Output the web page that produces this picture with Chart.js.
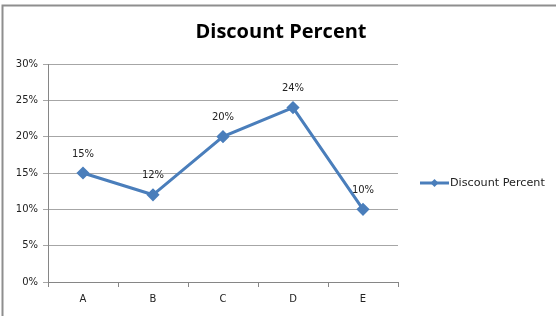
<!DOCTYPE html>
<html>
<head>
<meta charset="utf-8">
<script src="https://cdn.jsdelivr.net/npm/chart.js@4/dist/chart.umd.min.js"></script>
<style>
    html, body { margin: 0; padding: 0; background: #fff; }
    #chart { display: block; }
</style>
</head>
<body>
<canvas id="chart" width="556" height="316"></canvas>
<script>
const categories = ['A', 'B', 'C', 'D', 'E'];
const discountPercent = [0.15, 0.12, 0.20, 0.24, 0.10];
const seriesName = 'Discount Percent';
const chartTitle = 'Discount Percent';

const FONT = "'DejaVu Sans', sans-serif";
const TITLE_FONT = "'Open Sans', 'Noto Sans', sans-serif";
const LINE_COLOR = '#4a7ebb';

const pct = v => Math.round(v * 100) + '%';

// gray frame round the whole chart (top and left show in the picture)
const framePlugin = {
    id: 'frame',
    beforeDraw(chart) {
        const ctx = chart.ctx;
        ctx.save();
        ctx.strokeStyle = '#8e8e8e';
        ctx.lineWidth = 2;
        ctx.beginPath();
        ctx.moveTo(2.5, 316);
        ctx.lineTo(2.5, 5.5);
        ctx.lineTo(556, 5.5);
        ctx.stroke();
        ctx.restore();
    }
};

// title centred on the whole picture, not on the plot
const titlePlugin = {
    id: 'bigTitle',
    afterDraw(chart) {
        const ctx = chart.ctx;
        ctx.save();
        ctx.fillStyle = '#000';
        ctx.font = 'bold 20px ' + TITLE_FONT;
        ctx.textAlign = 'center';
        ctx.textBaseline = 'middle';
        ctx.fillText(chartTitle, 281, 32);
        ctx.restore();
    }
};

// value labels over each point
const pointLabels = {
    id: 'pointLabels',
    afterDatasetsDraw(chart) {
        const ctx = chart.ctx;
        const meta = chart.getDatasetMeta(0);
        ctx.save();
        ctx.font = '10px ' + FONT;
        ctx.fillStyle = '#222';
        ctx.textAlign = 'center';
        ctx.textBaseline = 'middle';
        meta.data.forEach((pt, i) => {
            ctx.fillText(pct(chart.data.datasets[0].data[i]), pt.x, pt.y - 19);
        });
        ctx.restore();
    }
};

// legend on the right, drawn by hand so it sits where the original had it
const sideLegend = {
    id: 'sideLegend',
    afterDraw(chart) {
        const ctx = chart.ctx;
        const ds = chart.data.datasets[0];
        const y = 183;
        ctx.save();
        ctx.strokeStyle = ds.borderColor;
        ctx.lineWidth = 3;
        ctx.beginPath();
        ctx.moveTo(420, y);
        ctx.lineTo(449, y);
        ctx.stroke();
        ctx.fillStyle = ds.borderColor;
        ctx.beginPath();
        ctx.moveTo(434.5, y - 4);
        ctx.lineTo(438.5, y);
        ctx.lineTo(434.5, y + 4);
        ctx.lineTo(430.5, y);
        ctx.closePath();
        ctx.fill();
        ctx.fillStyle = '#222';
        ctx.font = '11.2px ' + FONT;
        ctx.textBaseline = 'middle';
        ctx.fillText(ds.label, 450, y);
        ctx.restore();
    }
};

new Chart(document.getElementById('chart'), {
    type: 'line',
    data: {
        labels: categories,
        datasets: [{
            label: seriesName,
            data: discountPercent,
            borderColor: LINE_COLOR,
            backgroundColor: LINE_COLOR,
            borderWidth: 3,
            pointStyle: 'rectRot',
            pointRadius: 4.5,
            pointHoverRadius: 4.5,
            tension: 0
        }]
    },
    options: {
        responsive: false,
        animation: false,
        events: [],
        layout: { padding: { left: 2, right: 158, top: 64, bottom: 0 } },
        plugins: {
            legend: { display: false },
            tooltip: { enabled: false },
            title: { display: false }
        },
        scales: {
            x: {
                offset: true,
                grid: {
                    offset: true,
                    drawOnChartArea: false,
                    drawTicks: true,
                    tickLength: 5,
                    color: '#868686'
                },
                border: { color: '#868686' },
                ticks: { color: '#222', font: { family: FONT, size: 10 }, padding: 6 },
                afterFit(scale) { scale.height = 34; }
            },
            y: {
                min: 0,
                max: 0.3,
                grid: { color: '#a6a6a6', tickLength: 5 },
                border: { color: '#868686' },
                ticks: {
                    stepSize: 0.05,
                    color: '#222',
                    font: { family: FONT, size: 10 },
                    padding: 5,
                    callback: v => pct(v)
                },
                afterFit(scale) { scale.width = 46; }
            }
        }
    },
    plugins: [framePlugin, titlePlugin, pointLabels, sideLegend]
});
</script>
</body>
</html>
